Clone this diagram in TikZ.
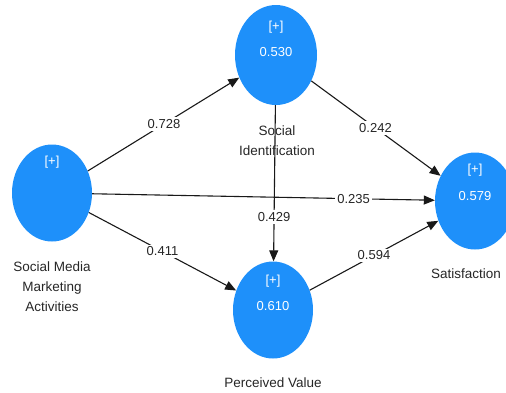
\documentclass[tikz,border=0pt]{standalone}
\usepackage{fontspec}
\setmainfont{Liberation Sans}
\usetikzlibrary{shapes.geometric,arrows.meta}
\definecolor{lvblue}{RGB}{30,144,250}
\definecolor{edgecol}{RGB}{25,25,25}
\tikzset{
  lv/.style={ellipse, fill=lvblue, draw=none, inner sep=0pt, minimum width=80pt, minimum height=97pt},
  intxt/.style={text=white, font=\fontsize{13}{14}\selectfont, inner sep=0pt},
  lvname/.style={text=black!85, font=\fontsize{13.5}{20}\selectfont, align=center, inner sep=0pt},
  coef/.style={fill=white, text=black!85, font=\fontsize{13}{14}\selectfont, inner sep=2pt},
  pathedge/.style={draw=edgecol, line width=1.1pt, -{Triangle[length=11pt,width=9pt]}},
}
\begin{document}
\begin{tikzpicture}[x=1pt,y=-1pt]
\useasboundingbox (0,0) rectangle (506,392);
\clip (0,0) rectangle (506,392);
\node[lv] (smma) at (52,193) {};
\node[lv, minimum height=100pt, minimum width=82pt] (si) at (276,55) {};
\node[lv] (pv) at (273,310) {};
\node[lv] (sat) at (475,201) {};
\draw[pathedge] (smma) -- (si);
\draw[pathedge] (smma) -- (sat);
\draw[pathedge] (smma) -- (pv);
\draw[pathedge] (si) -- (sat);
\draw[pathedge] (si) -- (pv);
\draw[pathedge] (pv) -- (sat);
\path (smma.center) -- node[coef] {0.728} (si.center);
\path (smma.center) -- node[coef, pos=0.713] {0.235} (sat.center);
\path (smma.center) -- node[coef] {0.411} (pv.center);
\path (si.center) -- node[coef] {0.242} (sat.center);
\path (si.center) -- node[coef, pos=0.635] {0.429} (pv.center);
\path (pv.center) -- node[coef] {0.594} (sat.center);
\node[intxt] (smmap) at (52,162) {[+]};
\node[intxt] (sip) at (276,27) {[+]};
\node[intxt] (siv) at (276,52) {0.530};
\node[intxt] (pvp) at (273,281) {[+]};
\node[intxt] (pvv) at (273,306) {0.610};
\node[intxt] (satp) at (475,170) {[+]};
\node[intxt] (satv) at (475,196) {0.579};
\node[lvname] (smmal) at (52,287) {Social Media\\Marketing\\Activities};
\node[lvname] (sil) at (277,141) {Social\\Identification};
\node[lvname] (pvl) at (273,383) {Perceived Value};
\node[lvname] (satl) at (466,274) {Satisfaction};
\end{tikzpicture}
\end{document}
